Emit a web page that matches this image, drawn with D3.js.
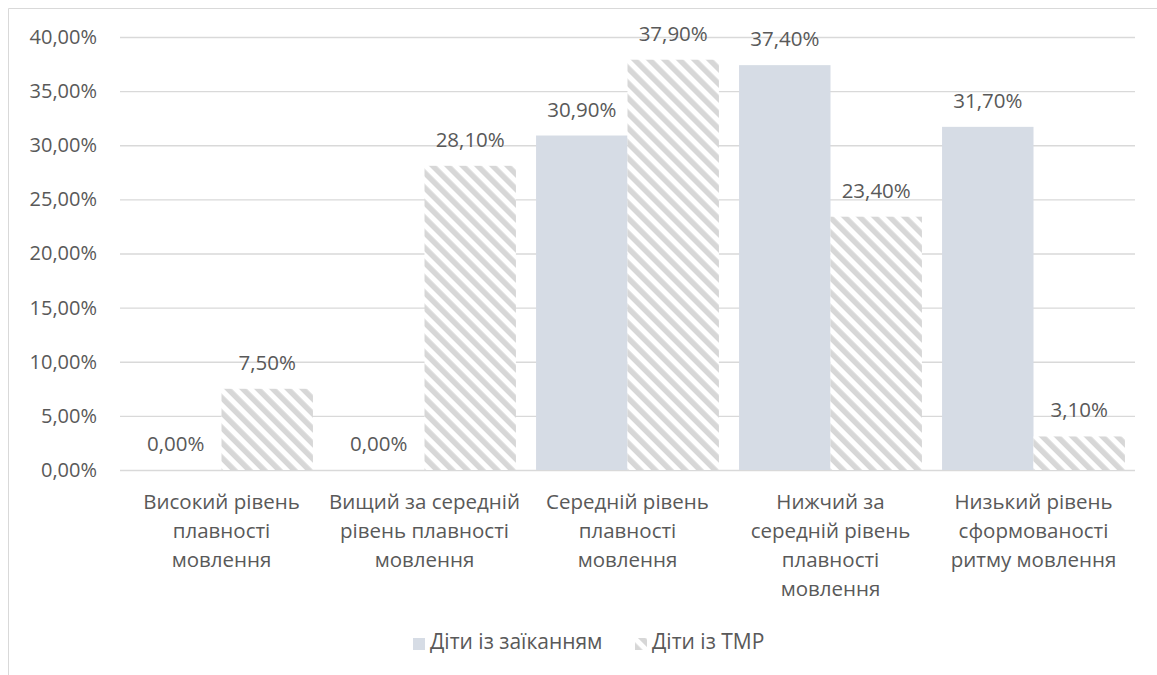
<!DOCTYPE html>
<html>
<head>
<meta charset="utf-8">
<script src="https://cdn.jsdelivr.net/npm/d3@7"></script>
<style>
  html, body { margin: 0; padding: 0; background: #fff; }
  svg { display: block; }
  text { font-family: "Open Sans", "Noto Sans", sans-serif; fill: #595959; }
</style>
</head>
<body>
<svg id="chart" width="1157" height="675"></svg>
<script>
// Category labels (line breaks mark where each label wraps)
const categories = [
  "Високий рівень\nплавності\nмовлення",
  "Вищий за середній\nрівень плавності\nмовлення",
  "Середній рівень\nплавності\nмовлення",
  "Нижчий за\nсередній рівень\nплавності\nмовлення",
  "Низький рівень\nсформованості\nритму мовлення"
];
const seriesNames = ["Діти із заїканням", "Діти із ТМР"];
const stutterValues = [0.0, 0.0, 30.9, 37.4, 31.7];
const tmrValues = [7.5, 28.1, 37.9, 23.4, 3.1];
const yTicks = [0, 5, 10, 15, 20, 25, 30, 35, 40];

const fmt = v => v.toFixed(2).replace(".", ",") + "%";

const svg = d3.select("#chart");
const W = 1157, H = 675;
const plot = { left: 120, right: 1135, top: 37, bottom: 470 };

// Chart frame (only the top and left edges fall inside the view)
svg.append("path")
  .attr("d", `M8.5,${H} V8.5 H${W}`)
  .attr("fill", "none")
  .attr("stroke", "#d9d9d9")
  .attr("stroke-width", 1);

// Diagonal hatch for the second series
const defs = svg.append("defs");
const hatch = defs.append("pattern")
  .attr("id", "hatch")
  .attr("patternUnits", "userSpaceOnUse")
  .attr("width", 10.6)
  .attr("height", 10.6)
  .attr("patternTransform", "rotate(-45)");
hatch.append("rect").attr("width", 10.6).attr("height", 10.6).attr("fill", "#ffffff");
hatch.append("rect").attr("width", 5.5).attr("height", 10.6).attr("fill", "#d7d7d7");

const colors = ["#d6dce5", "url(#hatch)"];

const x0 = d3.scaleBand().domain(d3.range(categories.length)).range([plot.left, plot.right]).padding(0);
const x1 = d3.scaleBand().domain([0, 1]).range([0, x0.bandwidth()]).paddingInner(0).paddingOuter(0.11);
const y = d3.scaleLinear().domain([0, 40]).range([plot.bottom, plot.top]);

// Gridlines and y tick labels
const yAxis = d3.axisLeft(y)
  .tickValues(yTicks)
  .tickSize(-(plot.right - plot.left))
  .tickPadding(23)
  .tickFormat(fmt);
const gy = svg.append("g").attr("transform", `translate(${plot.left},0)`).call(yAxis);
gy.select(".domain").remove();
gy.selectAll(".tick line").attr("stroke", "#d9d9d9").attr("stroke-width", 1.3);
gy.selectAll(".tick text").style("font-size", "20px").attr("fill", "#595959");

// Bars
const rows = categories.map((c, i) => ({ i, values: [stutterValues[i], tmrValues[i]] }));
const groups = svg.append("g").selectAll("g").data(rows).join("g")
  .attr("transform", d => `translate(${x0(d.i)},0)`);

groups.selectAll("rect").data(d => d.values.map((v, s) => ({ v, s }))).join("rect")
  .attr("x", d => x1(d.s))
  .attr("width", x1.bandwidth())
  .attr("y", d => y(d.v))
  .attr("height", d => y(0) - y(d.v))
  .attr("fill", d => colors[d.s]);

// Value labels above the bars
groups.selectAll("text.val").data(d => d.values.map((v, s) => ({ v, s }))).join("text")
  .attr("class", "val")
  .attr("x", d => x1(d.s) + x1.bandwidth() / 2)
  .attr("y", d => y(d.v) - 19)
  .attr("text-anchor", "middle")
  .style("font-size", "20.5px")
  .text(d => fmt(d.v));

// Category labels
const catG = svg.append("g");
categories.forEach((c, i) => {
  const t = catG.append("text")
    .attr("text-anchor", "middle")
    .attr("x", x0(i) + x0.bandwidth() / 2)
    .attr("y", 509)
    .style("font-size", "20.5px");
  c.split("\n").forEach((line, k) => {
    t.append("tspan")
      .attr("x", x0(i) + x0.bandwidth() / 2)
      .attr("dy", k === 0 ? 0 : 29)
      .text(line);
  });
});

// Legend
const legend = svg.append("g").attr("transform", "translate(413,638)");
const items = [{ name: seriesNames[0], x: 0 }, { name: seriesNames[1], x: 222 }];
items.forEach((it, s) => {
  legend.append("rect")
    .attr("x", it.x).attr("y", 0).attr("width", 12).attr("height", 12)
    .attr("fill", colors[s]);
  legend.append("text")
    .attr("x", it.x + 17).attr("y", 10)
    .attr("dy", "0.05em")
    .style("font-size", "21px")
    .text(it.name);
});
</script>
</body>
</html>
